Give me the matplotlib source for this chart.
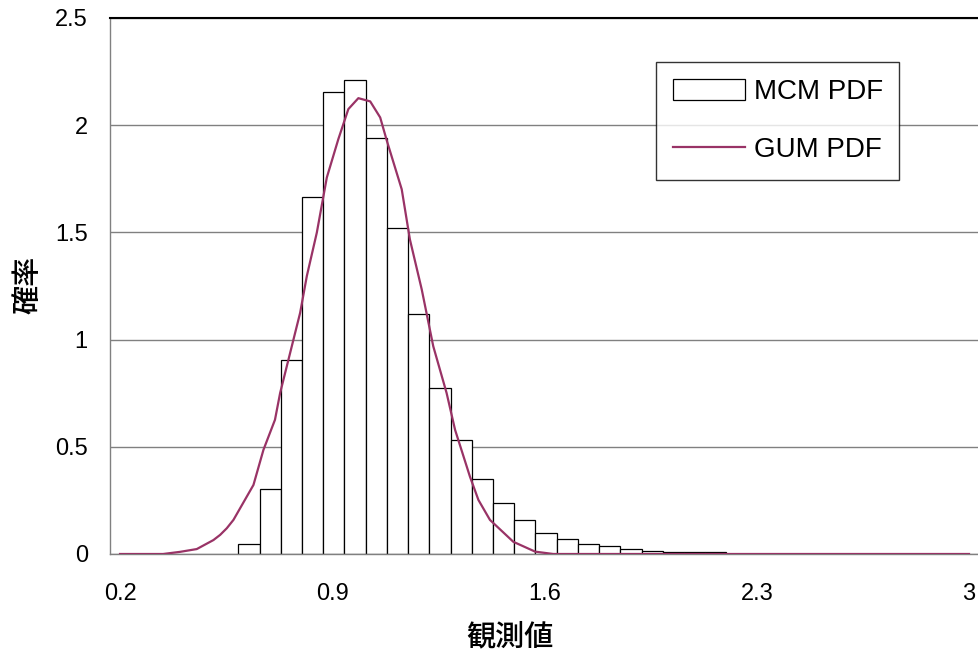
import matplotlib
matplotlib.use("Agg")
import matplotlib.pyplot as plt
import numpy as np

# MCM histogram (bin width 0.07, first bin starts at 0.59)
bin_start = 0.59
bin_width = 0.07
mcm_density = [0.045, 0.305, 0.905, 1.664, 2.157, 2.213, 1.942, 1.522,
               1.120, 0.774, 0.531, 0.352, 0.240, 0.157, 0.100, 0.072,
               0.045, 0.036, 0.025, 0.015, 0.008, 0.008, 0.008]

# GUM PDF curve
gum_x = [0.2, 0.342, 0.398, 0.453, 0.508, 0.530, 0.552, 0.574, 0.640, 0.673,
         0.711, 0.728, 0.761, 0.794, 0.816, 0.849, 0.882, 0.920, 0.953, 0.986,
         1.025, 1.058, 1.080, 1.129, 1.156, 1.195, 1.233, 1.277, 1.305, 1.354,
         1.382, 1.420, 1.497, 1.569, 1.629, 3.0]
gum_y = [0.0, 0.0, 0.01, 0.023, 0.065, 0.089, 0.12, 0.159, 0.322, 0.486,
         0.626, 0.751, 0.938, 1.125, 1.296, 1.499, 1.756, 1.935, 2.075, 2.126,
         2.111, 2.036, 1.927, 1.701, 1.467, 1.234, 0.969, 0.751, 0.579, 0.361,
         0.252, 0.159, 0.057, 0.011, 0.0, 0.0]

xticks = [0.2, 0.9, 1.6, 2.3, 3.0]
xtick_labels = ["0.2", "0.9", "1.6", "2.3", "3"]
yticks = [0, 0.5, 1, 1.5, 2, 2.5]
ytick_labels = ["0", "0.5", "1", "1.5", "2", "2.5"]

plt.rcParams['font.family'] = ['Liberation Sans', 'Noto Sans CJK JP', 'DejaVu Sans']

fig = plt.figure(figsize=(9.79, 6.56), dpi=100)
ax = fig.add_axes([0.1124, 0.1555, 0.8873, 0.8171])

lefts = bin_start + bin_width * np.arange(len(mcm_density))
bars = ax.bar(lefts, mcm_density, width=bin_width, align='edge', color='white',
              edgecolor='black', linewidth=0.9, label='MCM PDF', zorder=2)
line, = ax.plot(gum_x, gum_y, color='#993366', linewidth=1.6,
                label='GUM PDF', zorder=3)

ax.set_xlim(0.167, 3.032)
ax.set_ylim(0, 2.5)
ax.set_xticks(xticks)
ax.set_xticklabels(xtick_labels)
ax.set_yticks(yticks)
ax.set_yticklabels(ytick_labels)
ax.tick_params(axis='both', length=0, labelsize=17)
ax.tick_params(axis='x', pad=21)
ax.tick_params(axis='y', pad=16)

ax.yaxis.grid(True, color='#808080', linewidth=1.0)
ax.set_axisbelow(True)
for side in ['left', 'right', 'bottom']:
    ax.spines[side].set_color('#808080')
    ax.spines[side].set_linewidth(1.0)
ax.spines['top'].set_color('black')
ax.spines['top'].set_linewidth(1.5)

ax.set_xlabel('観測値', fontsize=21, fontweight='medium',
              family=['Noto Sans CJK JP'])
ax.xaxis.set_label_coords(0.4605, -0.155)
ax.xaxis.label.set_va('center')
ax.set_ylabel('確率', fontsize=21, fontweight='medium',
              family=['Noto Sans CJK JP'])
ax.yaxis.set_label_coords(-0.0944, 0.502)
ax.yaxis.label.set_va('center')

leg = ax.legend([bars, line], ['MCM PDF', 'GUM PDF'], loc='upper left',
                bbox_to_anchor=(0.629, 0.918), fontsize=20,
                fancybox=False, frameon=True, edgecolor='black',
                handlelength=2.6, handleheight=0.8, borderpad=0.6,
                labelspacing=1.15, handletextpad=0.3, borderaxespad=0)
leg.get_frame().set_linewidth(1.0)

fig.savefig('out.png', dpi=100)
